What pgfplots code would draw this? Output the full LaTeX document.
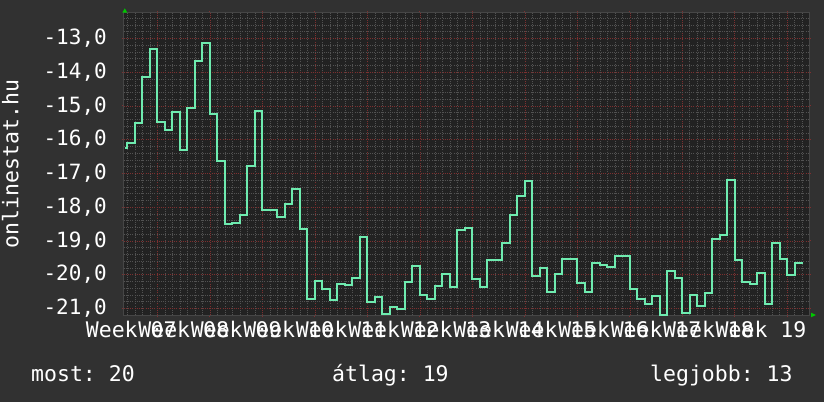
\documentclass[border=0pt]{standalone}
\usepackage{fontspec}
\setmainfont{DejaVu Sans Mono}
\usepackage{pgfplots}
\pgfplotsset{compat=1.18}
\frenchspacing

\definecolor{pagebg}{RGB}{49,49,49}
\definecolor{plotbg}{RGB}{34,34,34}
\definecolor{gridred}{RGB}{125,48,48}
\definecolor{gridgray}{RGB}{82,82,82}
\definecolor{axisgray}{RGB}{70,70,70}
\definecolor{rankline}{RGB}{110,235,175}
\definecolor{arrowgreen}{RGB}{0,200,0}

\newcommand{\fs}{\fontsize{21.5bp}{25bp}\selectfont}
\newcommand{\fsy}{\fontsize{21bp}{25bp}\selectfont}

\begin{document}
\begin{tikzpicture}
\useasboundingbox (0,0) rectangle (824bp,402bp);
\fill[pagebg] (0,0) rectangle (824bp,402bp);

\begin{axis}[
    at={(123.5bp,86.5bp)}, anchor=south west,
    scale only axis, width=685.5bp, height=302.5bp,
    xmin=-4.53, xmax=86.9, ymin=-21.21, ymax=-12.25,
    axis background/.style={fill=plotbg},
    axis line style={draw=axisgray, line width=1bp},
    xtick={0,7,...,84}, xticklabels={},
    minor xtick={-4,...,86},
    ytick={-21,-20,...,-13},
    yticklabels={{-21,0},{-20,0},{-19,0},{-18,0},{-17,0},{-16,0},{-15,0},{-14,0},{-13,0}},
    minor ytick={-21.2,-21.0,...,-12.4},
    grid=both,
    major grid style={draw=gridred, line width=0.6bp, dash pattern=on 1bp off 1.2bp},
    minor grid style={draw=gridgray, line width=0.6bp, dash pattern=on 1bp off 1.2bp},
    tick align=outside,
    major tick length=2bp, minor tick length=0pt,
    tick style={draw=gridred, line width=1bp},
    extra x ticks={-3.5,3.5,...,80.5},
    extra x tick labels={Week 07,Week 08,Week 09,Week 10,Week 11,Week 12,Week 13,Week 14,Week 15,Week 16,Week 17,Week 18,Week 19},
    extra x tick style={grid=none, major tick length=0pt},
    tick label style={text=white},
    yticklabel style={font=\fsy, anchor=east, inner sep=0pt, xshift=-14.5bp},
    xticklabel style={font=\fs, anchor=base, inner sep=0pt, yshift=-22.5bp},
]
\addplot[const plot, draw=rankline, line width=2bp] coordinates {
(-4.31,-16.24) (-4,-16.09) (-3,-15.51) (-2,-14.14) (-1,-13.32)
(0,-15.47) (1,-15.71) (2,-15.17) (3,-16.31) (4,-15.05) (5,-13.66) (6,-13.13)
(7,-15.24) (8,-16.63) (9,-18.49) (10,-18.46) (11,-18.22) (12,-16.77) (13,-15.14)
(14,-18.08) (15,-18.08) (16,-18.28) (17,-17.90) (18,-17.46) (19,-18.65) (20,-20.71)
(21,-20.18) (22,-20.42) (23,-20.75) (24,-20.28) (25,-20.30) (26,-20.11) (27,-18.88)
(28,-20.81) (29,-20.65) (30,-21.18) (31,-20.95) (32,-21.01) (33,-20.22) (34,-19.74)
(35,-20.60) (36,-20.71) (37,-20.34) (38,-19.98) (39,-20.36) (40,-18.68) (41,-18.62)
(42,-20.12) (43,-20.38) (44,-19.56) (45,-19.56) (46,-19.05) (47,-18.22) (48,-17.67)
(49,-17.23) (50,-20.03) (51,-19.80) (52,-20.52) (53,-19.97) (54,-19.54) (55,-19.54)
(56,-20.24) (57,-20.52) (58,-19.66) (59,-19.71) (60,-19.77) (61,-19.45) (62,-19.45)
(63,-20.42) (64,-20.71) (65,-20.87) (66,-20.62) (67,-21.19) (68,-19.88) (69,-20.09)
(70,-21.13) (71,-20.60) (72,-20.94) (73,-20.54) (74,-18.94) (75,-18.82) (76,-17.19)
(77,-19.58) (78,-20.21) (79,-20.29) (80,-19.95) (81,-20.86) (82,-19.05) (83,-19.53)
(84,-20.00) (85,-19.65) (86.07,-19.65)
};
\end{axis}

% axis arrow heads
\fill[arrowgreen] (124.8bp,393.7bp) -- (122.3bp,389.3bp) -- (127.3bp,389.3bp) -- cycle;
\fill[arrowgreen] (816bp,87bp) -- (811bp,89.3bp) -- (811bp,84.7bp) -- cycle;

% y axis title
\node[text=white, font=\fs, rotate=90, anchor=base, inner sep=0pt] at (18.3bp,238bp) {onlinestat.hu};

% summary line
\node[text=white, font=\fs, anchor=base west, inner sep=0pt] at (31bp,21bp) {most: 20};
\node[text=white, font=\fs, anchor=base west, inner sep=0pt] at (332bp,21bp) {átlag: 19};
\node[text=white, font=\fs, anchor=base west, inner sep=0pt] at (650bp,21bp) {legjobb: 13};
\end{tikzpicture}
\end{document}
